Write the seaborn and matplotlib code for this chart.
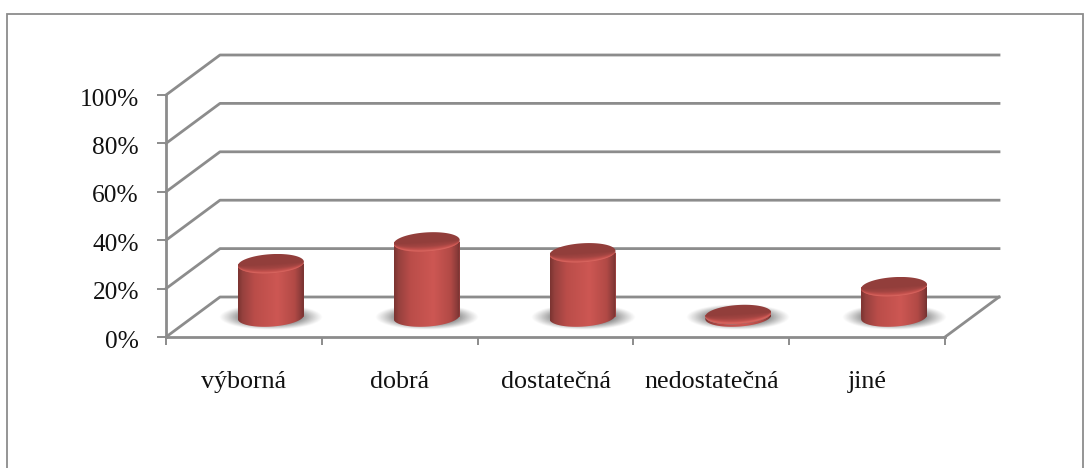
import numpy as np
import pandas as pd
import matplotlib
matplotlib.use("Agg")
import matplotlib.pyplot as plt
import matplotlib.transforms as mtransforms
from matplotlib.colors import LinearSegmentedColormap, to_rgb
from matplotlib.patches import Polygon, Rectangle
import seaborn as sns

# Survey results
categories = ["výborná", "dobrá", "dostatečná", "nedostatečná", "jiné"]
shares = [22, 31, 26.5, 1, 12.5]
y_ticks = [0, 20, 40, 60, 80, 100]
y_tick_labels = ["0%", "20%", "40%", "60%", "80%", "100%"]

GRID = "#8c8c8c"
TEXT = "#111111"
W, H = 1090, 468
LEFT, RIGHT, BOTTOM, TOP = 166, 945, 337, 95
PX_X = (RIGHT - LEFT) / len(categories)   # pixels per category
PX_Y = (BOTTOM - TOP) / 100               # pixels per percent

# Depth of the floor and of the cylinder centres, in data units
DEPTH_X, DEPTH_Y = 54 / PX_X, 40 / PX_Y
MID_X, MID_Y = DEPTH_X / 2, DEPTH_Y / 2
RADIUS_X, RADIUS_Y, TILT = 33 / PX_X, 9.6 / PX_Y, 0.06 * PX_X / PX_Y

sns.set_theme(style="white")
plt.rcParams["font.family"] = ["Liberation Serif", "DejaVu Serif"]

fig = plt.figure(figsize=(W / 100, H / 100), dpi=100, facecolor="white")
ax = fig.add_axes([LEFT / W, 1 - BOTTOM / H, (RIGHT - LEFT) / W, (BOTTOM - TOP) / H])
ax.patch.set_alpha(0)

# Chart frame, open past the lower edge of the figure
fig.add_artist(Rectangle((7 / W, -0.02), (1083 - 7) / W, 1.02 - 14 / H,
                         transform=fig.transFigure, fill=False,
                         edgecolor=GRID, linewidth=1.3))

df = pd.DataFrame({"category": categories, "share": shares})
sns.barplot(data=df, x="category", y="share", order=categories, ax=ax,
            width=2 * RADIUS_X, color="#c0504d", saturation=1, zorder=4)

# Floor and back wall
grid_kw = dict(color=GRID, lw=2.0, clip_on=False, zorder=1, solid_capstyle="projecting")
x0, x1 = -0.5, len(categories) - 0.5
for v in y_ticks:
    ax.plot([x0, x0 + DEPTH_X, x1 + DEPTH_X], [v, v + DEPTH_Y, v + DEPTH_Y], **grid_kw)
ax.plot([x1, x1 + DEPTH_X], [0, DEPTH_Y], **grid_kw)

body_cmap = LinearSegmentedColormap.from_list(
    "body", [(0.0, "#7a3331"), (0.07, "#96413e"), (0.25, "#ba4d49"),
             (0.6, "#cd5753"), (0.86, "#b24a46"), (0.96, "#8a3b39"), (1.0, "#733130")])
cap_cmap = LinearSegmentedColormap.from_list(
    "cap", [(0.0, "#8a3b38"), (0.5, "#923e3b"), (0.72, "#a34542"),
            (0.88, "#c4514d"), (0.97, "#dc6a63"), (1.0, "#cf5a55")])


def ellipse(cx, cy, t):
    return np.column_stack([cx + RADIUS_X * np.cos(t),
                            cy + RADIUS_Y * np.sin(t) + TILT * RADIUS_X * np.cos(t)])


def soft_shadow(cx, cy):
    gx, gy = np.meshgrid(np.linspace(-1, 1, 160), np.linspace(-1, 1, 60))
    r = np.hypot(gx, gy)
    rgba = np.zeros(gx.shape + (4,))
    rgba[..., :3] = to_rgb("#4c4c4c")
    rgba[..., 3] = 0.85 * np.clip((1 - r) / 0.55, 0, 1) ** 1.1
    ax.imshow(rgba, extent=[cx - 52 / PX_X, cx + 52 / PX_X, cy - 13 / PX_Y, cy + 13 / PX_Y],
              aspect="auto", origin="lower", zorder=2, clip_on=False, interpolation="bilinear")


lower = np.linspace(np.pi, 2 * np.pi, 60)
full = np.linspace(0, 2 * np.pi, 120)
for bar, value in zip(ax.patches, shares):
    cx = bar.get_x() + bar.get_width() / 2 + MID_X
    base, top = MID_Y, MID_Y + value

    # The bar carries the base colour, moved back to mid-depth
    bar.set_transform(mtransforms.Affine2D().translate(MID_X, MID_Y) + ax.transData)
    bar.set_clip_on(False)
    bar.set_linewidth(0)

    soft_shadow(cx, base)

    # Cylinder wall: horizontal shading limited to the outline
    outline = np.vstack([ellipse(cx, base, lower), ellipse(cx, top, lower)[::-1]])
    wall = Polygon(outline, closed=True, transform=ax.transData, fc="none", ec="none")
    ax.add_patch(wall)
    img = ax.imshow(np.linspace(0, 1, 256)[None, :], cmap=body_cmap, vmin=0, vmax=1,
                    extent=[cx - RADIUS_X, cx + RADIUS_X, base - 2 * RADIUS_Y, top + 2 * RADIUS_Y],
                    aspect="auto", zorder=5, interpolation="bilinear")
    img.set_clip_path(wall)

    # Lid: shading runs across the tilted ellipse, brightest on the front rim
    lid_pts = ellipse(cx, top, full)
    lid = Polygon(lid_pts, closed=True, transform=ax.transData, fc="none", ec="none")
    ax.add_patch(lid)
    ymin, ymax = lid_pts[:, 1].min(), lid_pts[:, 1].max()
    gx, gy = np.meshgrid(np.linspace(-RADIUS_X, RADIUS_X, 132),
                         np.linspace(ymin - top, ymax - top, 80))
    across = (gy - TILT * gx) / RADIUS_Y
    rim = np.clip(-across / np.sqrt(np.clip(1 - (gx / RADIUS_X) ** 2, 0.02, 1)), 0, 1)
    shade = np.where(across < 0, 0.5 + 0.5 * rim, 0.5 * np.clip(1 + across, 0, 1))
    img = ax.imshow(shade, cmap=cap_cmap, vmin=0, vmax=1,
                    extent=[cx - RADIUS_X, cx + RADIUS_X, ymin, ymax],
                    aspect="auto", origin="lower", zorder=6, interpolation="bilinear")
    img.set_clip_path(lid)

ax.set_xlim(x0, x1)
ax.set_ylim(0, 100)
ax.set_xlabel("")
ax.set_ylabel("")

for name in ("top", "right"):
    ax.spines[name].set_visible(False)
for name in ("left", "bottom"):
    ax.spines[name].set_color(GRID)
    ax.spines[name].set_linewidth(2.0)
    ax.spines[name].set_zorder(1)

ax.set_yticks(y_ticks, y_tick_labels)
ax.tick_params(axis="y", left=True, length=6.5, width=1.4, color=GRID, pad=13,
               labelsize=18.3, labelcolor=TEXT)
ax.set_xticks(np.arange(len(categories)), categories)
ax.set_xticks(np.arange(len(categories) + 1) - 0.5, minor=True)
ax.tick_params(axis="x", which="major", bottom=False, length=0, pad=24.5,
               labelsize=18.7, labelcolor=TEXT)
ax.tick_params(axis="x", which="minor", bottom=True, length=6, width=1.4, color=GRID)

# Value labels sit slightly below their ticks
label_shift = mtransforms.ScaledTranslation(0, -2 / 100, fig.dpi_scale_trans)
for label in ax.get_yticklabels():
    label.set_transform(label.get_transform() + label_shift)

fig.savefig("out.png", dpi=100, facecolor="white")
